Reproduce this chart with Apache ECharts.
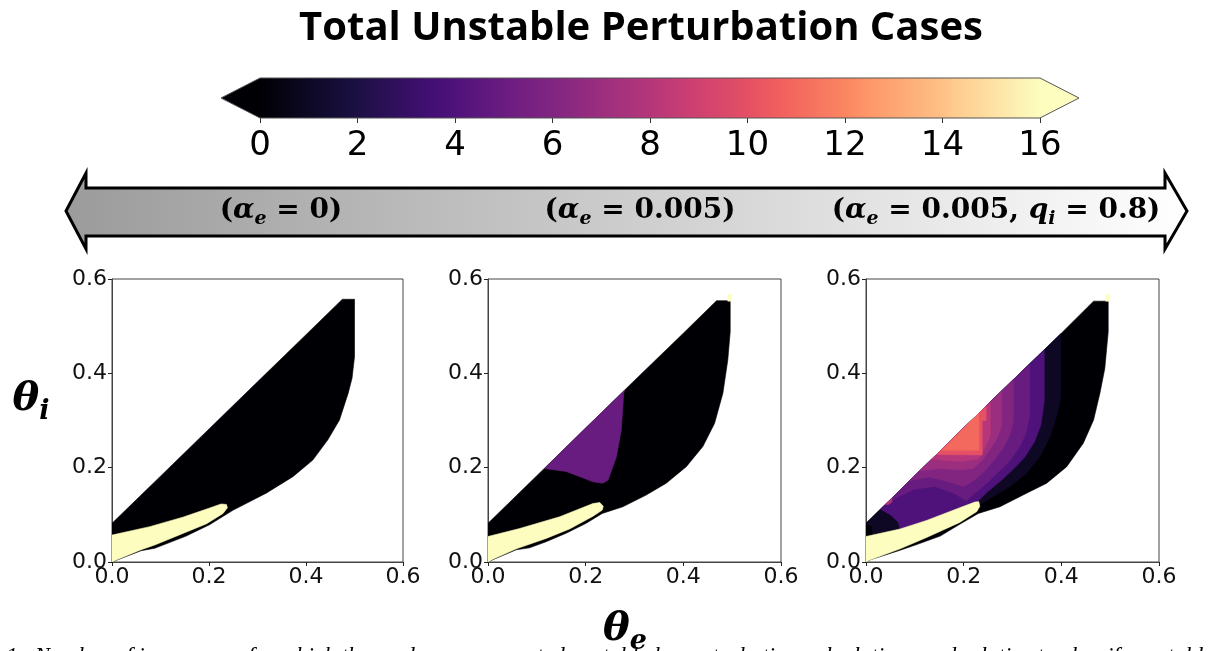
<!DOCTYPE html>
<html><head><meta charset="utf-8">
<script src="https://cdn.jsdelivr.net/npm/echarts@6/dist/echarts.min.js"></script>
<style>html,body{margin:0;padding:0;background:#fff;overflow:hidden}#c{width:1221px;height:651px}</style>
</head><body><div id="c"></div>
<script>
// ---------------- data ----------------
const colorbarTicks = [0, 2, 4, 6, 8, 10, 12, 14, 16];
const cbMin = 0, cbMax = 16;
const thetaTicks = [0, 0.2, 0.4, 0.6];
const panelTitles = ['α_e = 0', 'α_e = 0.005', 'α_e = 0.005, q_i = 0.8'];

// region outlines [theta_e, theta_i]
const p1Domain = [[0,0],[0,0.082],[0.1,0.182],[0.2,0.282],[0.3,0.382],[0.4,0.482],[0.475,0.557],[0.5,0.557],[0.5,0.435],[0.495,0.39],[0.487,0.358],[0.469,0.301],[0.445,0.259],[0.414,0.216],[0.373,0.181],[0.318,0.146],[0.25,0.11],[0.201,0.079],[0.153,0.055],[0.088,0.029],[0.06,0.024],[0.01,0.004]];
const p1Yellow = [[0,0],[0,0.057],[0.078,0.075],[0.146,0.095],[0.2,0.114],[0.225,0.123],[0.236,0.122],[0.238,0.115],[0.229,0.103],[0.195,0.081],[0.14,0.058],[0.088,0.036],[0.06,0.026],[0.01,0.005]];

const p2Domain = [[0,0],[0,0.082],[0.1,0.183],[0.2,0.284],[0.3,0.385],[0.4,0.485],[0.468,0.554],[0.496,0.554],[0.496,0.488],[0.491,0.428],[0.481,0.358],[0.464,0.294],[0.44,0.245],[0.406,0.202],[0.365,0.167],[0.324,0.142],[0.276,0.117],[0.234,0.103],[0.201,0.082],[0.16,0.061],[0.119,0.043],[0.085,0.03],[0.058,0.026],[0.01,0.005]];
const p2Yellow = [[0,0],[0,0.054],[0.065,0.071],[0.147,0.096],[0.215,0.124],[0.229,0.126],[0.236,0.118],[0.234,0.11],[0.215,0.097],[0.167,0.07],[0.119,0.05],[0.058,0.028],[0.01,0.006]];
const p2Purple = [[0.116,0.198],[0.2,0.284],[0.28,0.364],[0.278,0.358],[0.273,0.28],[0.263,0.223],[0.246,0.174],[0.235,0.167],[0.215,0.17],[0.188,0.181],[0.16,0.192]];
const cornerSpeck = [[0.491,0.553],[0.498,0.553],[0.498,0.567],[0.491,0.567]];

const p3Domain = [[0,0],[0,0.082],[0.1,0.183],[0.2,0.284],[0.3,0.385],[0.4,0.485],[0.466,0.553],[0.496,0.553],[0.496,0.488],[0.489,0.41],[0.479,0.358],[0.466,0.301],[0.445,0.252],[0.411,0.202],[0.37,0.167],[0.329,0.146],[0.274,0.117],[0.23,0.103],[0.192,0.08],[0.152,0.055],[0.104,0.037],[0.07,0.025],[0.01,0.005]];
const p3Yellow = [[0,0],[0,0.054],[0.07,0.07],[0.124,0.088],[0.192,0.115],[0.223,0.127],[0.231,0.128],[0.233,0.118],[0.227,0.107],[0.192,0.084],[0.124,0.052],[0.07,0.028],[0.008,0.004]];
const p3Level1 = [[0,0.054],[0,0.082],[0.1,0.183],[0.2,0.284],[0.3,0.385],[0.399,0.484],[0.398,0.343],[0.39,0.308],[0.377,0.266],[0.356,0.223],[0.329,0.188],[0.295,0.16],[0.261,0.139],[0.233,0.122],[0.192,0.115],[0.124,0.088],[0.07,0.07]];
const p3Black = [[0,0.054],[0.012,0.057],[0.012,0.074],[0,0.08]];
const p3Level4 = [[0.03,0.112],[0.1,0.183],[0.2,0.284],[0.3,0.385],[0.365,0.449],[0.365,0.34],[0.358,0.29],[0.345,0.255],[0.325,0.222],[0.302,0.197],[0.276,0.172],[0.25,0.15],[0.228,0.128],[0.192,0.115],[0.124,0.088],[0.07,0.07],[0.066,0.085],[0.05,0.1]];
const p3Level5 = [[0.045,0.127],[0.1,0.183],[0.2,0.284],[0.3,0.385],[0.335,0.419],[0.335,0.31],[0.328,0.275],[0.315,0.245],[0.295,0.215],[0.27,0.19],[0.245,0.165],[0.222,0.145],[0.205,0.13],[0.18,0.146],[0.14,0.16],[0.1,0.155],[0.07,0.14]];
const p3Level6 = [[0.09,0.173],[0.2,0.284],[0.302,0.386],[0.302,0.3],[0.295,0.27],[0.28,0.24],[0.26,0.213],[0.24,0.19],[0.22,0.172],[0.2,0.16],[0.17,0.17],[0.13,0.18]];
const p3Level7 = [[0.11,0.193],[0.2,0.284],[0.278,0.362],[0.278,0.29],[0.27,0.265],[0.255,0.24],[0.238,0.215],[0.22,0.198],[0.19,0.195],[0.15,0.198]];
const p3Level8 = [[0.135,0.218],[0.2,0.284],[0.255,0.339],[0.255,0.27],[0.245,0.245],[0.23,0.218],[0.19,0.213]];
const p3Speck8 = [[0.04,0.122],[0.053,0.135],[0.053,0.127],[0.046,0.122]];
const p3Level10 = [[0.145,0.228],[0.2,0.284],[0.246,0.33],[0.246,0.3],[0.238,0.3],[0.238,0.227]];
const p3Level11 = [[0.155,0.237],[0.2,0.284],[0.231,0.315],[0.231,0.237]];

// [value (number of unstable cases), outline]
const panel1Regions = [[0, p1Domain], [16, p1Yellow]];
const panel2Regions = [[0, p2Domain], [5, p2Purple], [16, p2Yellow], [16, cornerSpeck]];
const panel3Regions = [[0, p3Domain], [1, p3Level1], [0, p3Black], [4, p3Level4], [5, p3Level5], [6, p3Level6], [7, p3Level7], [8, p3Level8], [8, p3Speck8], [10, p3Level10], [11, p3Level11], [16, p3Yellow], [16, cornerSpeck]];

// ---------------- colormap (magma) ----------------
const magmaStops = [[0,'#000004'],[0.111,'#180f3d'],[0.125,'#1c1044'],[0.222,'#440f76'],[0.25,'#4f127b'],[0.333,'#721f81'],[0.376,'#812581'],[0.444,'#9e2f7f'],[0.5,'#b5367a'],[0.556,'#cd4071'],[0.627,'#e55064'],[0.667,'#f1605d'],[0.753,'#fb8761'],[0.778,'#fd9668'],[0.878,'#fec287'],[0.889,'#feca8d'],[1,'#fcfdbf']];
function hex2rgb(h){return [parseInt(h.slice(1,3),16),parseInt(h.slice(3,5),16),parseInt(h.slice(5,7),16)];}
function magma(t){
  t = Math.max(0, Math.min(1, t));
  for (let i = 1; i < magmaStops.length; i++) {
    if (t <= magmaStops[i][0]) {
      const t0 = magmaStops[i-1][0], t1 = magmaStops[i][0];
      const a = hex2rgb(magmaStops[i-1][1]), b = hex2rgb(magmaStops[i][1]);
      const f = (t - t0) / (t1 - t0);
      return 'rgb(' + a.map((v,k)=>Math.round(v + (b[k]-v)*f)).join(',') + ')';
    }
  }
  return magmaStops[magmaStops.length-1][1];
}
const valColor = v => magma((v - cbMin) / (cbMax - cbMin));

// ---------------- layout ----------------
const panelGrids = [
  {left:112, top:279, width:291, height:283},
  {left:488, top:279, width:293, height:283},
  {left:866, top:279, width:293, height:283}
];
const tickFont = 'DejaVu Sans';

function polyRenderer(regions){
  return function(params, api){
    const r = regions[params.dataIndex];
    const c = valColor(r[0]);
    return {type:'polygon', shape:{points: r[1].map(p => api.coord(p))},
            style:{fill:c, stroke:c, lineWidth:0.6}};
  };
}
function renderColorbar(params, api){
  const ext = (cbMax - cbMin) * 0.05;
  const p = (x,y) => api.coord([x,y]);
  const stops = magmaStops.map(s => ({offset:s[0], color:s[1]}));
  const outline = [p(cbMin,1), p(cbMin-ext,0.5), p(cbMin,0), p(cbMax,0), p(cbMax+ext,0.5), p(cbMax,1)];
  return {type:'group', children:[
    {type:'polygon', shape:{points:[p(cbMin,1),p(cbMin-ext,0.5),p(cbMin,0)]}, style:{fill:valColor(cbMin)}},
    {type:'polygon', shape:{points:[p(cbMin,1),p(cbMax,1),p(cbMax,0),p(cbMin,0)]},
     style:{fill:{type:'linear',x:0,y:0,x2:1,y2:0,colorStops:stops}}},
    {type:'polygon', shape:{points:[p(cbMax,1),p(cbMax+ext,0.5),p(cbMax,0)]}, style:{fill:valColor(cbMax)}},
    {type:'polygon', shape:{points:outline}, style:{fill:null, stroke:'#555', lineWidth:1}}
  ]};
}

const grids = panelGrids.map(g => Object.assign({show:true, borderColor:'#444', borderWidth:1, backgroundColor:'#fff'}, g));
grids.push({left:260, top:78, width:780, height:40});

const xAxes = [], yAxes = [];
panelGrids.forEach((g, i) => {
  const common = {gridIndex:i, type:'value', min:thetaTicks[0], max:thetaTicks[thetaTicks.length-1], interval:0.2,
    splitLine:{show:false},
    axisLine:{show:true, onZero:false, lineStyle:{color:'#444', width:1}},
    axisTick:{show:true, length:4, lineStyle:{color:'#222', width:1}},
    axisLabel:{fontSize:22, fontFamily:tickFont, color:'#111', formatter:v=>v.toFixed(1)}};
  xAxes.push(Object.assign({}, common, {axisLabel:Object.assign({}, common.axisLabel, {margin:4})}));
  yAxes.push(Object.assign({}, common, {axisLabel:Object.assign({}, common.axisLabel, {margin:5})}));
});
xAxes.push({gridIndex:3, type:'value', min:cbMin, max:cbMax, interval:2, position:'bottom',
  splitLine:{show:false}, axisLine:{show:false},
  axisTick:{show:true, length:5, lineStyle:{color:'#333', width:1}},
  axisLabel:{fontSize:34, fontFamily:tickFont, color:'#000', margin:11}});
yAxes.push({gridIndex:3, type:'value', min:0, max:1, show:false});

const series = [panel1Regions, panel2Regions, panel3Regions].map((regs, i) => ({
  type:'custom', xAxisIndex:i, yAxisIndex:i, clip:true,
  renderItem: polyRenderer(regs), data: regs.map((r, k) => [k]), z:2
}));
series.push({type:'custom', xAxisIndex:3, yAxisIndex:3, clip:false, renderItem:renderColorbar, data:[[0]]});

function mathLabel(txt){
  let out = '{p|(}';
  txt.split(/(α_e|q_i)/).forEach(part => {
    if (part === 'α_e') out += '{a|α}{s|e}';
    else if (part === 'q_i') out += '{a|q}{s|i}';
    else if (part) out += '{p|' + part + '}';
  });
  return out + '{p|)}';
}
const serif = 'DejaVu Serif';
const labelRich = {
  p:{fontFamily:serif, fontWeight:'bold', fontSize:28, lineHeight:36, color:'#000'},
  a:{fontFamily:serif, fontWeight:'bold', fontStyle:'italic', fontSize:28, lineHeight:36, color:'#000'},
  s:{fontFamily:serif, fontWeight:'bold', fontStyle:'italic', fontSize:19, lineHeight:22, padding:[17,0,0,0], color:'#000'}
};
const labelX = [281, 640, 996];

const graphic = [
  {type:'text', x:641, y:29, style:{text:'Total Unstable Perturbation Cases', fontFamily:'Open Sans', fontWeight:'bold',
    fontSize:40, fill:'#000', align:'center', verticalAlign:'middle'}},
  {type:'polygon', z:1, shape:{points:[[66,211],[86,173],[86,188],[1165,188],[1165,173],[1187,211],[1165,249],[1165,236],[86,236],[86,249]]},
    style:{fill:{type:'linear',x:0,y:0,x2:1,y2:0,colorStops:[{offset:0,color:'#9b9b9b'},{offset:1,color:'#ffffff'}]},
      stroke:'#000', lineWidth:3, lineJoin:'miter'}},
  ...panelTitles.map((t, i) => ({type:'text', z:2, x:labelX[i], y:211,
    style:{text:mathLabel(t), rich:labelRich, align:'center', verticalAlign:'middle'}})),
  {type:'text', x:31, y:400, style:{text:'{t|θ}{s|i}', align:'center', verticalAlign:'middle', rich:{
    t:{fontFamily:serif, fontWeight:'bold', fontStyle:'italic', fontSize:40, lineHeight:44, color:'#000'},
    s:{fontFamily:serif, fontWeight:'bold', fontStyle:'italic', fontSize:27, lineHeight:30, padding:[24,0,0,0], color:'#000'}}}},
  {type:'text', z:3, x:625, y:630, style:{text:'{t|θ}{s|e}', align:'center', verticalAlign:'middle', rich:{
    t:{fontFamily:serif, fontWeight:'bold', fontStyle:'italic', fontSize:40, lineHeight:44, color:'#000'},
    s:{fontFamily:serif, fontWeight:'bold', fontStyle:'italic', fontSize:27, lineHeight:30, padding:[24,0,0,0], color:'#000'}}}},
  {type:'text', z:0, x:6, y:645, style:{text:'1.  Number of inner cases for which the modes are computed unstable by perturbation calculations and relative to classify unstable instabilities.  The',
    fontFamily:'Liberation Serif', fontStyle:'italic', fontSize:23, fill:'#000', align:'left', verticalAlign:'top'}}
];

const chart = echarts.init(document.getElementById('c'), null, {renderer:'canvas', width:1221, height:651});
chart.setOption({animation:false, backgroundColor:'#fff', grid:grids, xAxis:xAxes, yAxis:yAxes, series:series, graphic:graphic});
</script></body></html>
